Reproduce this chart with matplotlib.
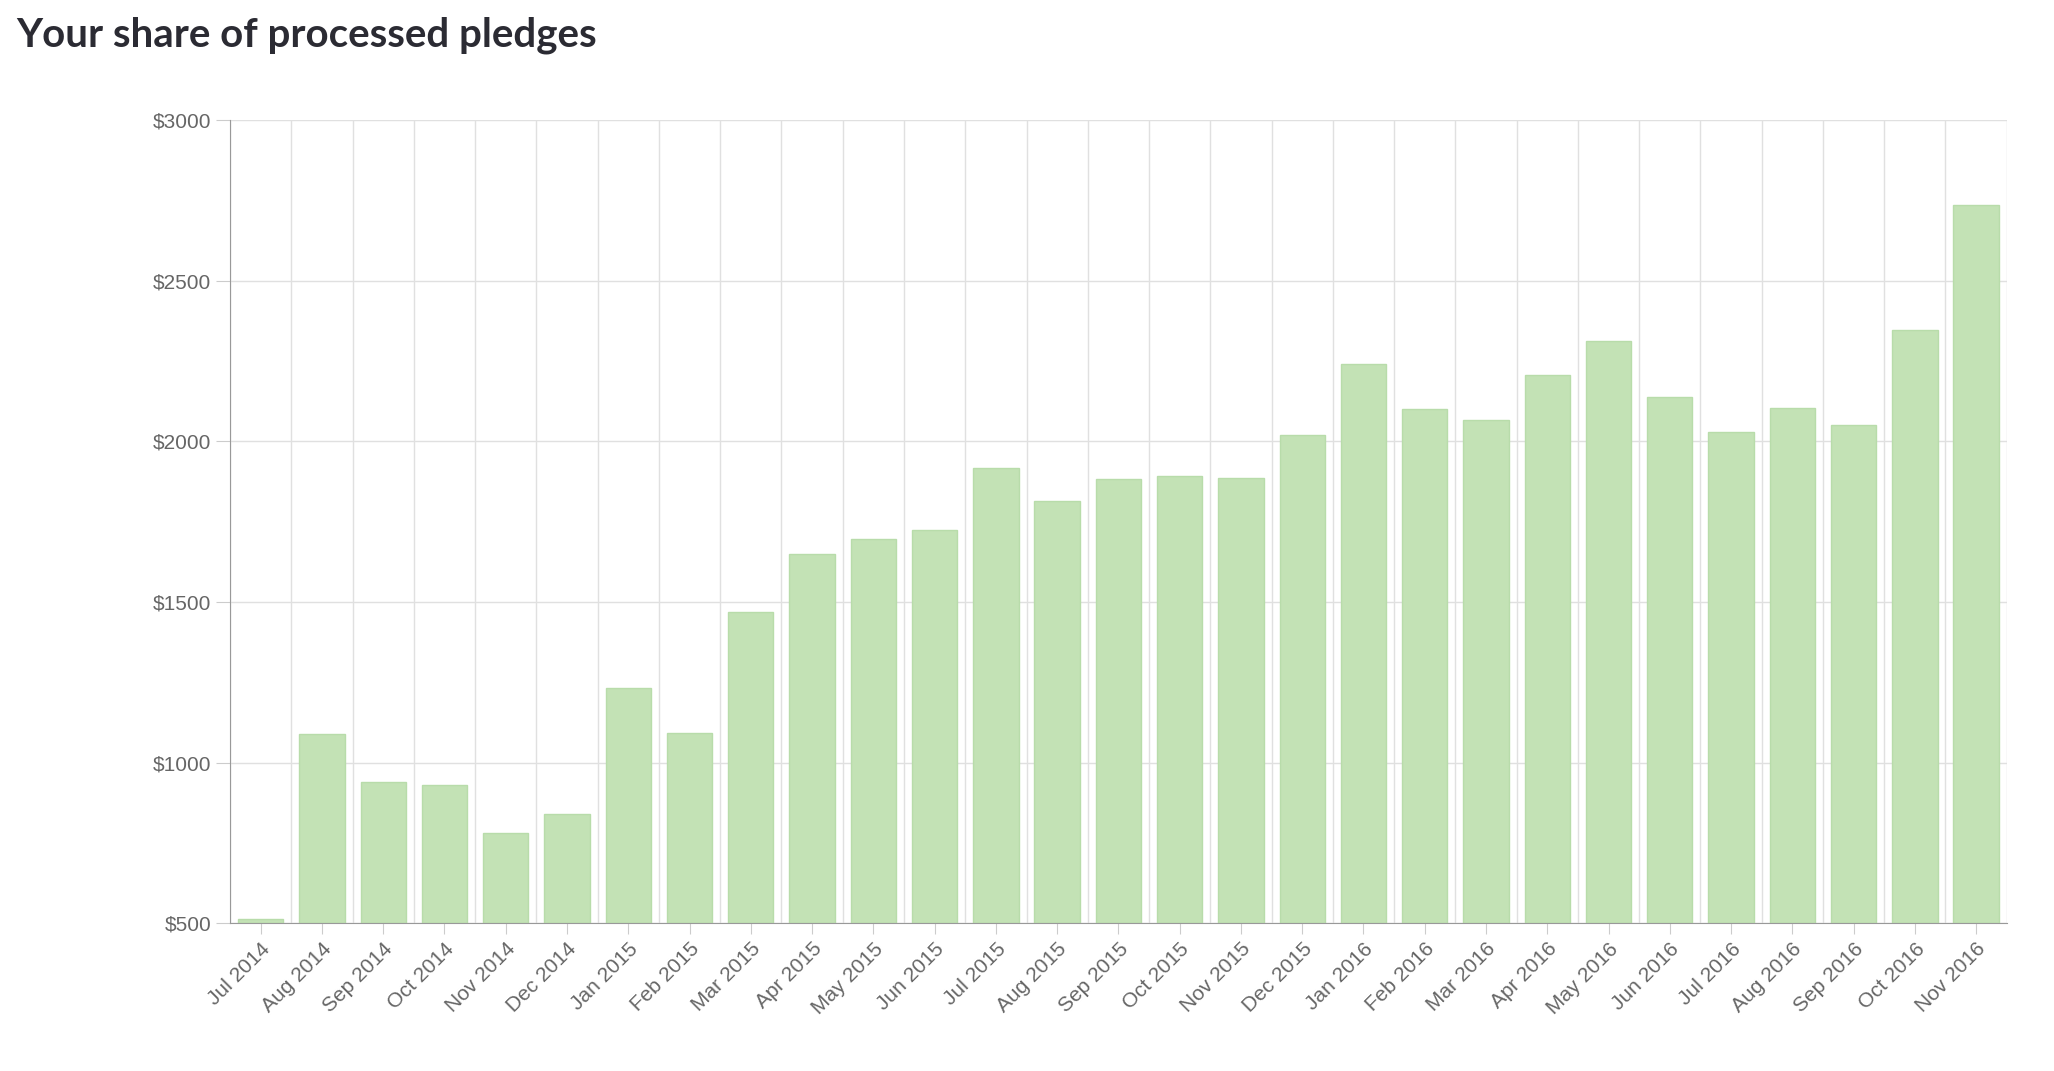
import matplotlib.pyplot as plt
import numpy as np

months = ["Jul 2014", "Aug 2014", "Sep 2014", "Oct 2014", "Nov 2014", "Dec 2014",
          "Jan 2015", "Feb 2015", "Mar 2015", "Apr 2015", "May 2015", "Jun 2015",
          "Jul 2015", "Aug 2015", "Sep 2015", "Oct 2015", "Nov 2015", "Dec 2015",
          "Jan 2016", "Feb 2016", "Mar 2016", "Apr 2016", "May 2016", "Jun 2016",
          "Jul 2016", "Aug 2016", "Sep 2016", "Oct 2016", "Nov 2016"]
pledges = [512, 1089, 938, 930, 782, 840, 1232, 1093, 1470, 1650, 1695, 1723,
           1916, 1813, 1883, 1891, 1887, 2018, 2239, 2100, 2067, 2206, 2313, 2137,
           2030, 2104, 2051, 2345, 2734]
y_ticks = [500, 1000, 1500, 2000, 2500, 3000]

fig = plt.figure(figsize=(20.54, 10.71), dpi=100)
ax = fig.add_axes([0.112, 0.138, 0.865, 0.75])

x = np.arange(len(months))
ax.bar(x, np.array(pledges) - 500, bottom=500, width=0.74,
       color="#c3e2b5", edgecolor="#b8dcaa", linewidth=1, zorder=2)

ax.set_xlim(-0.5, len(months) - 0.5)
ax.set_ylim(500, 3000)
ax.set_yticks(y_ticks)
ax.set_yticklabels([f"${v}" for v in y_ticks])
ax.set_xticks(x)
ax.set_xticklabels(months, rotation=45, ha="right", rotation_mode="anchor")
ax.set_xticks(np.arange(-0.5, len(months), 1), minor=True)
ax.grid(True, which="minor", axis="x", color="#e0e0e0", linewidth=1, zorder=0)
ax.grid(True, which="major", axis="y", color="#e0e0e0", linewidth=1, zorder=0)
ax.tick_params(which="minor", length=0)
for lbl in ax.get_xticklabels() + ax.get_yticklabels():
    lbl.set_family("Liberation Sans")
ax.tick_params(axis="both", which="major", labelsize=15, colors="#666666", length=8, color="#cccccc")
ax.tick_params(axis="y", length=10)

for s in ["top", "right"]:
    ax.spines[s].set_visible(False)
ax.spines["left"].set_color("#999999")
ax.spines["bottom"].set_color("#999999")

fig.text(0.008, 0.967, "Your share of processed pledges", fontsize=29, fontweight="bold",
         family="Lato", color="#2b2b33", va="center", ha="left")

fig.savefig("out.png", dpi=100)
